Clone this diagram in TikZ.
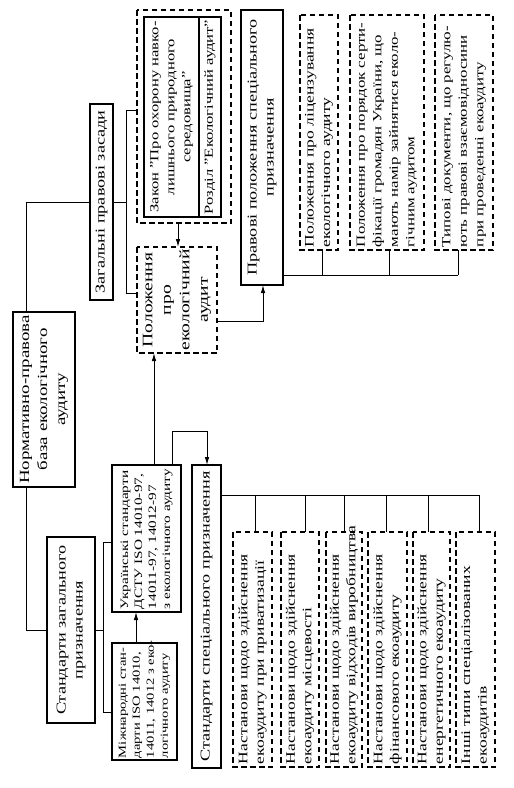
\documentclass[tikz,border=0pt]{standalone}
\usepackage{fontspec}
\setmainfont{Liberation Serif}[FakeStretch=1.35]
\usetikzlibrary{arrows.meta}
\begin{document}
\begin{tikzpicture}[x=1pt,y=-1pt,
  every node/.style={rotate=90, inner sep=0pt, outer sep=0pt},
  sbox/.style={draw, line width=1.3pt},
  dbox/.style={draw, line width=1.3pt, dash pattern=on 5.5pt off 3.5pt},
  conn/.style={line width=0.9pt},
  arr/.style={conn, -{Latex[length=8pt,width=4.5pt]}},
  fbody/.style={font=\fontsize{13}{16.5}\selectfont},
  fbodys/.style={font=\fontsize{12.5}{16.5}\selectfont},
  ftitle/.style={font=\fontsize{13.5}{17}\selectfont},
  fsmall/.style={font=\fontsize{11.3}{14}\selectfont},
]
\useasboundingbox (0,0) rectangle (514,788);
\fill[white] (0,0) rectangle (514,788);

% root
\node[sbox, font=\fontsize{14}{18}\selectfont, minimum width=175pt, minimum height=62pt, align=center] (root) at (44,399.5)
  {Нормативно-правова\\база екологічного\\аудиту};
% general legal
\node[sbox, ftitle, minimum width=196pt, minimum height=23pt, align=center] (zag) at (101.5,202)
  {Загальні правові засади};
% law group
\node[dbox, minimum width=213pt, minimum height=94pt] (zakon) at (184,116.5) {};
\node[sbox, font=\fontsize{12.3}{16}\selectfont, minimum width=200pt, minimum height=55pt, text width=196pt, align=center] (zakonA) at (171.5,117)
  {\mbox{Закон "Про охорону навко-}\\\mbox{лишнього природного}\\\mbox{середовища"}};
\node[sbox, font=\fontsize{12.3}{16}\selectfont, minimum width=200pt, minimum height=22pt, text width=196pt, align=center] (zakonB) at (210,117)
  {\mbox{Розділ "Екологічний аудит"}};
% regulation
\node[dbox, font=\fontsize{14.5}{18.5}\selectfont, minimum width=106pt, minimum height=80pt, align=center] (polozh) at (177,300)
  {Положення\\про\\екологічний\\аудит};
% special legal
\node[sbox, ftitle, minimum width=275pt, minimum height=42pt, align=center] (pravovi) at (262,147.5)
  {Правові положення спеціального\\призначення};
\node[dbox, fbody, minimum width=235pt, minimum height=38pt, text width=229pt, align=left] (pa) at (319,132.5)
  {\mbox{Положення про ліцензування}\\\mbox{екологічного аудиту}};
\node[dbox, fbodys, minimum width=235pt, minimum height=74pt, text width=229pt, align=left] (pb) at (387,132.5)
  {\mbox{Положення про порядок серти-}\\\mbox{фікації громадян України, що}\\\mbox{мають намір зайнятися еколо-}\\\mbox{гічним аудитом}};
\node[dbox, fbodys, minimum width=235pt, minimum height=58pt, text width=229pt, align=left] (pc) at (464,132.5)
  {\mbox{Типові документи, що регулю-}\\\mbox{ють правові взаємовідносини}\\\mbox{при проведенні екоаудиту}};

% general standards
\node[sbox, ftitle, minimum width=186pt, minimum height=48pt, align=center] (stgen) at (71,630)
  {Стандарти загального\\призначення};
\node[sbox, fsmall, minimum width=147pt, minimum height=69pt, text width=141pt, align=left] (ukr) at (146.5,538.5)
  {\mbox{Українські стандарти}\\\mbox{ДСТУ ISO 14010-97,}\\\mbox{14011-97, 14012-97}\\\mbox{з екологічного аудиту}};
\node[sbox, font=\fontsize{10.8}{14}\selectfont, minimum width=117pt, minimum height=65pt, text width=113pt, align=left] (mizh) at (144.5,701.5)
  {\mbox{Міжнародні стан-}\\\mbox{дарти ISO 14010,}\\\mbox{14011, 14012 з еко-}\\\mbox{логічного аудиту}};
% special standards
\node[sbox, ftitle, minimum width=303pt, minimum height=29pt, align=center] (stspec) at (206.5,616.5)
  {Стандарти спеціального призначення};
\node[dbox, fbody, minimum width=235pt, minimum height=39pt, text width=229pt, align=left] (n1) at (252.5,649.5)
  {\mbox{Настанови щодо здійснення}\\\mbox{екоаудиту при приватизації}};
\node[dbox, fbody, minimum width=235pt, minimum height=38pt, text width=229pt, align=left] (n2) at (300,649.5)
  {\mbox{Настанови щодо здійснення}\\\mbox{екоаудиту місцевості}};
\node[dbox, fbody, minimum width=235pt, minimum height=36pt, text width=229pt, align=left] (n3) at (344,649.5)
  {\mbox{Настанови щодо здійснення}\\\mbox{екоаудиту відходів виробництва}};
\node[dbox, fbody, minimum width=235pt, minimum height=39pt, text width=229pt, align=left] (n4) at (387.5,649.5)
  {\mbox{Настанови щодо здійснення}\\\mbox{фінансового екоаудиту}};
\node[dbox, fbody, minimum width=235pt, minimum height=37pt, text width=229pt, align=left] (n5) at (431.5,649.5)
  {\mbox{Настанови щодо здійснення}\\\mbox{енергетичного екоаудиту}};
\node[dbox, fbody, minimum width=235pt, minimum height=39pt, text width=229pt, align=left] (n6) at (475.5,649.5)
  {\mbox{Інші типи спеціалізованих}\\\mbox{екоаудитів}};

% connectors
\coordinate (zb) at (126,202);
\coordinate (sb) at (103,630);
\coordinate (pbus) at (0,275);
\coordinate (sbus) at (0,495);

\draw[conn] (root.east -| 26,0) |- (zag.north);
\draw[conn] (root.west -| 26,0) |- (stgen.north);

\draw[conn] (zag.south) -- (zb);
\draw[conn] (zakon.north |- 0,110) -| (zb);
\draw[conn] (polozh.north |- 0,293) -| (zb);
\draw[arr] (zakon.west -| 178,0) -- (polozh.east -| 178,0);
\draw[arr] (polozh.south |- 0,321) -| (pravovi.west -| 263,0);

\draw[conn] (pravovi.south |- pbus) -- (pbus -| 458,0);
\draw[conn] (pa.west -| 322,0) -- (pbus -| 322,0);
\draw[conn] (pb.west -| 389,0) -- (pbus -| 389,0);
\draw[conn] (pc.west -| 458,0) -- (pbus -| 458,0);

\draw[conn] (stgen.south) -- (sb);
\draw[conn] (ukr.north |- 0,542) -| (sb);
\draw[conn] (mizh.north |- 0,712) -| (sb);
\draw[arr] (mizh.east -| 136,0) -- (ukr.west -| 136,0);
\draw[arr] (ukr.east -| 154,0) -- (polozh.west -| 154,0);
\draw[arr] (ukr.east -| 172,0) -- ++(0,-34) -| (stspec.east -| 207,0);

\draw[conn] (stspec.south |- sbus) -- (sbus -| 479,0);
\draw[conn] (n1.east -| 255,0) -- (sbus -| 255,0);
\draw[conn] (n2.east -| 305,0) -- (sbus -| 305,0);
\draw[conn] (n3.east -| 344,0) -- (sbus -| 344,0);
\draw[conn] (n4.east -| 386,0) -- (sbus -| 386,0);
\draw[conn] (n5.east -| 428,0) -- (sbus -| 428,0);
\draw[conn] (n6.east -| 479,0) -- (sbus -| 479,0);
\end{tikzpicture}
\end{document}
